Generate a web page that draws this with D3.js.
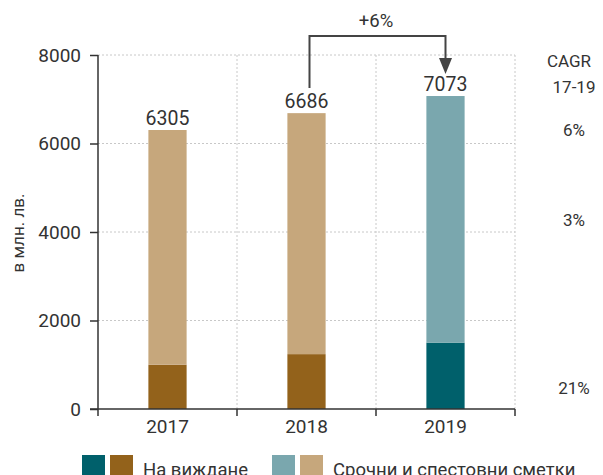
<!DOCTYPE html>
<html lang="bg">
<head>
<meta charset="utf-8">
<script src="https://cdn.jsdelivr.net/npm/d3@7"></script>
<style>
  body { margin: 0; background: #fff; }
  svg { font-family: "Roboto", "Noto Sans", sans-serif; }
</style>
</head>
<body>
<div id="chart"></div>
<script>
// data
var years = ["2017", "2018", "2019"];
var viewing = [1000, 1240, 1500];
var savings = [5305, 5446, 5573];
var totals = [6305, 6686, 7073];
var yTicks = [0, 2000, 4000, 6000, 8000];
var cagrLabels = ["6%", "3%", "21%"];
var cagrAt = [6300, 4260, 480];
var growthLabel = "+6%";

var darkColors = ["#93621b", "#93621b", "#00606b"];
var lightColors = ["#c6a77c", "#c6a77c", "#7aa7ae"];

var width = 603, height = 475;
var svg = d3.select("#chart").append("svg")
  .attr("width", width)
  .attr("height", height)
  .attr("lang", "bg");

var x = d3.scaleBand().domain(years).range([98, 515]).padding(0);
var y = d3.scaleLinear().domain([0, 8000]).range([409, 55]);
var barW = x.bandwidth() * 0.275;

// grid lines
svg.append("g").selectAll("line.h")
  .data(yTicks.filter(function (d) { return d > 0; }))
  .enter().append("line")
  .attr("x1", 98).attr("x2", 515)
  .attr("y1", function (d) { return y(d); })
  .attr("y2", function (d) { return y(d); })
  .attr("stroke", "#c8c8c8").attr("stroke-width", 1)
  .attr("stroke-dasharray", "2,2");

var bounds = years.slice(1).map(function (d) { return x(d); }).concat([515]);
svg.append("g").selectAll("line.v")
  .data(bounds)
  .enter().append("line")
  .attr("x1", function (d) { return d; }).attr("x2", function (d) { return d; })
  .attr("y1", y(8000)).attr("y2", y(0))
  .attr("stroke", "#c8c8c8").attr("stroke-width", 1)
  .attr("stroke-dasharray", "2,2");

// bars
var rows = years.map(function (yr, i) {
  return { year: yr, a: viewing[i], b: savings[i], total: totals[i], i: i };
});

svg.append("g").selectAll("rect")
  .data(rows).enter().append("rect")
  .attr("x", function (d) { return x(d.year) + (x.bandwidth() - barW) / 2; })
  .attr("width", barW)
  .attr("y", function (d) { return y(d.a); })
  .attr("height", function (d) { return y(0) - y(d.a); })
  .attr("fill", function (d) { return darkColors[d.i]; });

svg.append("g").selectAll("rect")
  .data(rows).enter().append("rect")
  .attr("x", function (d) { return x(d.year) + (x.bandwidth() - barW) / 2; })
  .attr("width", barW)
  .attr("y", function (d) { return y(d.a + d.b); })
  .attr("height", function (d) { return y(d.a) - y(d.a + d.b); })
  .attr("fill", function (d) { return lightColors[d.i]; });

// total labels
svg.append("g").selectAll("text")
  .data(rows).enter().append("text")
  .attr("x", function (d) { return x(d.year) + x.bandwidth() / 2; })
  .attr("y", function (d) { return y(d.a + d.b) - 5; })
  .attr("text-anchor", "middle")
  .attr("font-size", 19.5)
  .attr("fill", "#333")
  .text(function (d) { return d.total; });

// axes
var yAxis = d3.axisLeft(y).tickValues(yTicks).tickFormat(d3.format("d"))
  .tickSize(8).tickPadding(9);
var gy = svg.append("g").attr("transform", "translate(98,0)").call(yAxis)
  .attr("font-family", null).attr("font-size", null);
gy.select(".domain").attr("d", "M0," + y(8000) + "V" + (y(0) + 7))
  .attr("stroke", "#333").attr("stroke-width", 1.5);
gy.selectAll(".tick line").attr("stroke", "#333").attr("stroke-width", 1.5);
gy.selectAll(".tick text").attr("font-size", 19).attr("fill", "#333");

var gx = svg.append("g").attr("transform", "translate(0," + y(0) + ")");
gx.append("line").attr("x1", 90).attr("x2", 515)
  .attr("stroke", "#333").attr("stroke-width", 1.5);
gx.selectAll("line.t").data(bounds).enter().append("line")
  .attr("x1", function (d) { return d; }).attr("x2", function (d) { return d; })
  .attr("y1", 0).attr("y2", 7)
  .attr("stroke", "#333").attr("stroke-width", 1.5);
gx.selectAll("text").data(years).enter().append("text")
  .attr("x", function (d) { return x(d) + x.bandwidth() / 2; })
  .attr("y", 24)
  .attr("text-anchor", "middle")
  .attr("font-size", 19).attr("fill", "#333")
  .text(function (d) { return d; });

// y axis title
svg.append("text")
  .attr("transform", "translate(24," + (y(4000) + 1) + ") rotate(-90)")
  .attr("text-anchor", "middle")
  .attr("font-size", 17).attr("fill", "#333")
  .text("в млн. лв.");

// growth bracket
var x0 = x("2018") + x.bandwidth() / 2 + 3;
var x1 = x("2019") + x.bandwidth() / 2;
svg.append("path")
  .attr("d", "M" + x0 + ",88V36H" + x1 + "V60")
  .attr("fill", "none").attr("stroke", "#444").attr("stroke-width", 2);
svg.append("path")
  .attr("d", "M" + (x1 - 6.5) + ",58L" + (x1 + 6.5) + ",58L" + x1 + ",74Z")
  .attr("fill", "#444");
svg.append("text")
  .attr("x", x("2019"))
  .attr("y", 27)
  .attr("text-anchor", "middle")
  .attr("font-size", 18.5).attr("fill", "#333")
  .text(growthLabel);

// CAGR column
var cx = 574;
svg.append("text").attr("x", cx - 5).attr("y", 67).attr("text-anchor", "middle")
  .attr("font-size", 17).attr("fill", "#333").text("CAGR");
svg.append("text").attr("x", cx).attr("y", 93).attr("text-anchor", "middle")
  .attr("font-size", 17).attr("fill", "#333").text("17-19");
svg.append("g").selectAll("text")
  .data(cagrLabels).enter().append("text")
  .attr("x", cx)
  .attr("y", function (d, i) { return y(cagrAt[i]) + 6; })
  .attr("text-anchor", "middle")
  .attr("font-size", 17).attr("fill", "#333")
  .text(function (d) { return d; });

// legend
var legend = [
  { colors: ["#00606b", "#93621b"], label: "На виждане", x: 82 },
  { colors: ["#7aa7ae", "#c6a77c"], label: "Срочни и спестовни сметки", x: 272 }
];
var lg = svg.append("g").selectAll("g").data(legend).enter().append("g");
lg.each(function (d) {
  var g = d3.select(this);
  d.colors.forEach(function (c, j) {
    g.append("rect").attr("x", d.x + j * 28).attr("y", 455)
      .attr("width", 23).attr("height", 23).attr("fill", c);
  });
  g.append("text").attr("x", d.x + 61).attr("y", 476)
    .attr("font-size", 18.5).attr("fill", "#333").text(d.label);
});
</script>
</body>
</html>
